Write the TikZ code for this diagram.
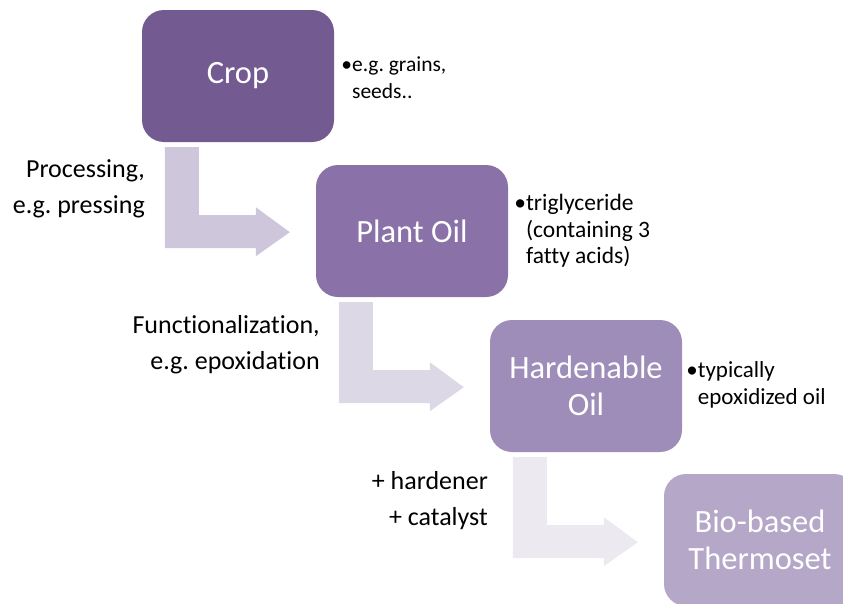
\documentclass[tikz,border=0pt]{standalone}
\usepackage{fontspec}
\setmainfont{Carlito}[Ligatures=NoCommon]
\frenchspacing
\definecolor{cCrop}{HTML}{735A91}
\definecolor{cPlant}{HTML}{8A72A8}
\definecolor{cHard}{HTML}{9F8DB9}
\definecolor{cBio}{HTML}{B4A7C8}
\definecolor{cArrA}{HTML}{CEC7DB}
\definecolor{cArrB}{HTML}{DDD8E6}
\definecolor{cArrC}{HTML}{ECE9F1}
\newcommand\bentarrow[2]{%
  \begin{scope}[shift={(#1.south west)}]
    \fill[#2] (23,5) -- (57,5) -- (57,73) -- (114,73) -- (114,65) -- (148,90)
      -- (114,114) -- (114,106) -- (23,106) -- cycle;
  \end{scope}}
\begin{document}
\begin{tikzpicture}[x=1pt,y=-1pt,
  stage/.style={rounded corners=22pt, minimum width=192pt, minimum height=132pt,
    inner sep=0pt, text=white, align=center, font=\fontsize{32.5}{37}\selectfont},
  note/.style={anchor=west, inner sep=0pt, align=left, text=black},
  lbl/.style={anchor=east, inner sep=0pt, align=right, text=black,
    font=\fontsize{26}{36}\selectfont}]
\useasboundingbox (0,0) rectangle (843,603);
\clip (0,0) rectangle (843,603);
% boxes
\node[stage, fill=cCrop]  (crop)  at (238,76)  {Crop};
\node[stage, fill=cPlant] (plant) at (412,231) {Plant Oil};
\node[stage, fill=cHard]  (hard)  at (586,386) {Hardenable\\Oil};
\node[stage, fill=cBio]   (bio)   at (760,540) {Bio-based\\Thermoset};
% bent arrows
\bentarrow{crop}{cArrA}
\bentarrow{plant}{cArrB}
\bentarrow{hard}{cArrC}
% notes
\node[note, font=\fontsize{21.5}{27}\selectfont] (ncrop)  at ([xshift=7pt,yshift=-2pt]crop.east) {•e.g. grains,\\\phantom{•}seeds..};
\node[note, font=\fontsize{23.5}{26.5}\selectfont] (nplant) at ([xshift=6pt]plant.east) {•triglyceride\\\phantom{•}(containing 3\\\phantom{•}fatty acids)};
\node[note, font=\fontsize{23}{26.5}\selectfont] (nhard)  at ([xshift=4pt,yshift=1pt]hard.east) {•typically\\\phantom{•}epoxidized oil};
% step labels
\node[lbl] (l1) at (145,189) {Processing,\\e.g. pressing};
\node[lbl] (l2) at (320,345) {Functionalization,\\e.g. epoxidation};
\node[lbl] (l3) at (488,501) {+ hardener\\+ catalyst};
\end{tikzpicture}
\end{document}
